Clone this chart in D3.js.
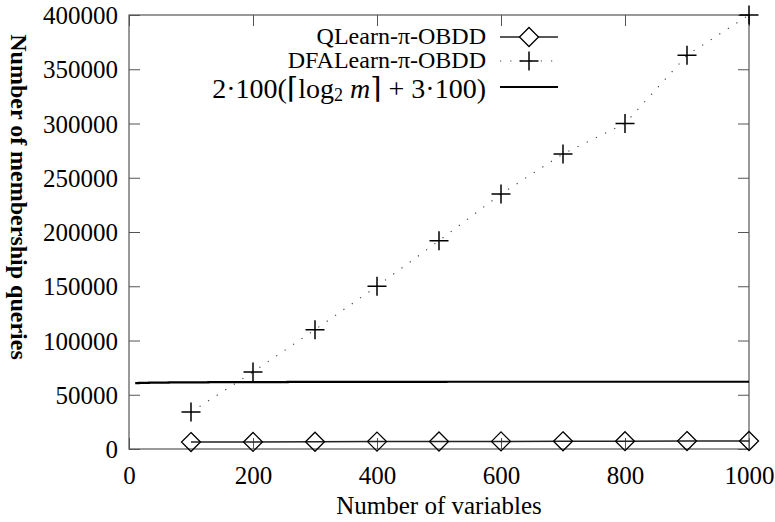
<!DOCTYPE html>
<html lang="en">
<head>
    <meta charset="UTF-8">
    <title>Membership queries</title>
    <script src="https://d3js.org/d3.v7.min.js"></script>
    <style>
        body { margin: 0; background: white; }
        svg { display: block; font-family: "Liberation Serif", serif; }
        .axis line { stroke: #555; }
        .axis path { display: none; }
    </style>
</head>
<body>
    <div id="chart"></div>
    <script>
        const width = 775;
        const height = 522;

        // data
        const variables = [100, 200, 300, 400, 500, 600, 700, 800, 900, 1000];
        const qlearn = [6400, 6500, 6700, 6800, 6900, 7000, 7100, 7200, 7300, 7400];
        const dfalearn = [34000, 71000, 110000, 150000, 192000, 235000, 272000, 300000, 363000, 400000];
        const boundX = [10, 16, 32, 64, 128, 256, 512, 1000];
        const boundY = [60800, 61000, 61200, 61400, 61600, 61800, 62000, 62000];
        const xTicks = [0, 200, 400, 600, 800, 1000];
        const yTicks = [0, 50000, 100000, 150000, 200000, 250000, 300000, 350000, 400000];

        const serif = "Liberation Serif";

        const svg = d3.select("#chart").append("svg")
            .attr("width", width)
            .attr("height", height);

        const x = d3.scaleLinear().domain([0, 1000]).range([129, 749]);
        const y = d3.scaleLinear().domain([0, 400000]).range([449, 15]);

        // axes with inward ticks, mirrored on top/right
        const axes = [
            svg.append("g").attr("transform", `translate(${x(0)},0)`)
                .call(d3.axisLeft(y).tickValues(yTicks).tickSize(-11).tickPadding(11).tickFormat(d3.format("d"))),
            svg.append("g").attr("transform", `translate(${x(1000)},0)`)
                .call(d3.axisRight(y).tickValues(yTicks).tickSize(-11).tickFormat("")),
            svg.append("g").attr("transform", `translate(0,${y(0)})`)
                .call(d3.axisBottom(x).tickValues(xTicks).tickSize(-11).tickPadding(26).tickFormat(d3.format("d"))),
            svg.append("g").attr("transform", `translate(0,${y(400000)})`)
                .call(d3.axisTop(x).tickValues(xTicks).tickSize(-11).tickFormat(""))
        ];
        axes.forEach(g => {
            g.attr("class", "axis").attr("font-family", null).attr("font-size", null);
            g.selectAll("text")
                .attr("fill", "black").attr("dy", null).attr("dominant-baseline", "central")
                .style("font-family", serif).style("font-size", "25px");
        });

        // frame
        svg.append("rect")
            .attr("x", x(0)).attr("y", y(400000))
            .attr("width", x(1000) - x(0)).attr("height", y(0) - y(400000))
            .attr("fill", "none").attr("stroke", "#555").attr("stroke-width", 1.2);

        // axis titles
        svg.append("text")
            .attr("x", 439).attr("y", 514)
            .attr("text-anchor", "middle")
            .attr("font-size", 25)
            .text("Number of variables");
        svg.append("text")
            .attr("transform", "translate(11,197) rotate(90)")
            .attr("text-anchor", "middle")
            .attr("font-size", 24)
            .attr("font-weight", "bold")
            .text("Number of membership queries");

        // series
        const line = d3.line().x(d => x(d[0])).y(d => y(d[1]));
        const stepLine = d3.line().x(d => x(d[0])).y(d => y(d[1])).curve(d3.curveStepAfter);
        const qPts = variables.map((v, i) => [v, qlearn[i]]);
        const dPts = variables.map((v, i) => [v, dfalearn[i]]);
        const bPts = boundX.map((v, i) => [v, boundY[i]]);

        svg.append("path").datum(dPts)
            .attr("d", line)
            .attr("fill", "none").attr("stroke", "#444").attr("stroke-width", 1.2)
            .attr("stroke-dasharray", "1.2,9");

        svg.append("path").datum(bPts)
            .attr("d", stepLine)
            .attr("fill", "none").attr("stroke", "black").attr("stroke-width", 2.2);

        svg.append("path").datum(qPts)
            .attr("d", line)
            .attr("fill", "none").attr("stroke", "#222").attr("stroke-width", 1.5);

        const diamond = (cx, cy, r) => `M${cx},${cy - r}L${cx + r},${cy}L${cx},${cy + r}L${cx - r},${cy}Z`;
        const plus = (cx, cy, r) => `M${cx - r},${cy}H${cx + r}M${cx},${cy - r}V${cy + r}`;

        svg.selectAll(".dia").data(qPts).join("path")
            .attr("class", "dia")
            .attr("d", d => diamond(x(d[0]), y(d[1]), 9.5))
            .attr("fill", "none").attr("stroke", "black").attr("stroke-width", 1.3);

        svg.selectAll(".plus").data(dPts).join("path")
            .attr("class", "plus")
            .attr("d", d => plus(x(d[0]), y(d[1]), 9.5))
            .attr("fill", "none").attr("stroke", "black").attr("stroke-width", 1.5);

        // legend
        const legend = svg.append("g");
        const lx0 = 500, lx1 = 558, lxm = 529, tx = 486;

        legend.append("text").attr("x", tx).attr("y", 36)
            .attr("text-anchor", "end").attr("dominant-baseline", "central")
            .attr("font-size", 24).text("QLearn-π-OBDD");
        legend.append("line").attr("x1", lx0).attr("x2", lx1).attr("y1", 37).attr("y2", 37)
            .attr("stroke", "#222").attr("stroke-width", 1.5);
        legend.append("path").attr("d", diamond(lxm, 37, 9.5))
            .attr("fill", "white").attr("stroke", "black").attr("stroke-width", 1.3);

        legend.append("text").attr("x", tx).attr("y", 60)
            .attr("text-anchor", "end").attr("dominant-baseline", "central")
            .attr("font-size", 24).text("DFALearn-π-OBDD");
        legend.append("line").attr("x1", lx0).attr("x2", lx1).attr("y1", 61).attr("y2", 61)
            .attr("stroke", "#444").attr("stroke-width", 1.2).attr("stroke-dasharray", "1.2,9");
        legend.append("path").attr("d", plus(lxm, 61, 9.5))
            .attr("fill", "none").attr("stroke", "black").attr("stroke-width", 1.5);

        const f = legend.append("text").attr("x", tx).attr("y", 88)
            .attr("text-anchor", "end").attr("dominant-baseline", "central")
            .attr("font-size", 28);
        f.append("tspan").text("2·100(");
        f.append("tspan").attr("font-family", "DejaVu Serif").attr("font-size", 29).text("⌈");
        f.append("tspan").text("log");
        f.append("tspan").attr("font-size", 18).attr("dy", 7).text("2");
        f.append("tspan").attr("dy", -7).attr("font-style", "italic").text(" m");
        f.append("tspan").attr("font-family", "DejaVu Serif").attr("font-size", 29).text("⌉");
        f.append("tspan").text(" + 3·100)");
        legend.append("line").attr("x1", lx0).attr("x2", lx1).attr("y1", 87).attr("y2", 87)
            .attr("stroke", "black").attr("stroke-width", 2.2);
    </script>
</body>
</html>
